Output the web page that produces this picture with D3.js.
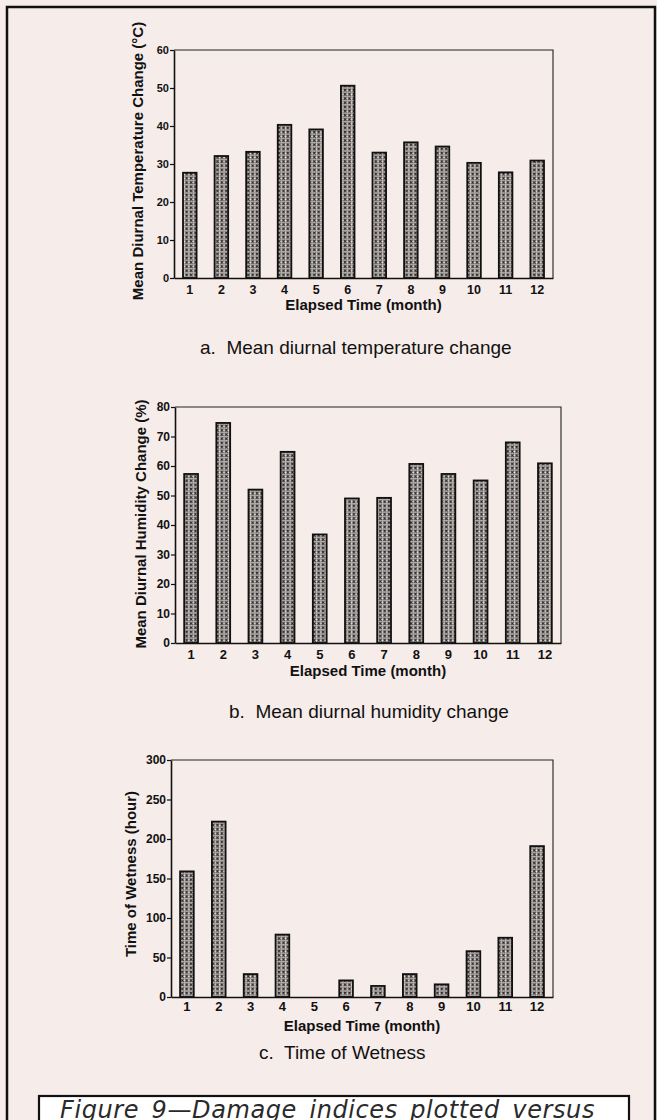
<!DOCTYPE html>
<html>
<head>
<meta charset="utf-8">
<script src="https://cdn.jsdelivr.net/npm/d3@7"></script>
<style>
  html, body { margin: 0; padding: 0; background: #f6ece9; }
  svg { display: block; }
</style>
</head>
<body>
<svg id="fig" width="657" height="1120"></svg>
<script>
// Elapsed months on every panel
const months = [1, 2, 3, 4, 5, 6, 7, 8, 9, 10, 11, 12];

// a. Mean diurnal temperature change (°C)
const tempChange = [27.7, 32.1, 33.2, 40.3, 39.1, 50.6, 33.0, 35.7, 34.6, 30.3, 27.8, 30.9];
const tempTicks = [0, 10, 20, 30, 40, 50, 60];

// b. Mean diurnal humidity change (%)
const humidityChange = [57.3, 74.6, 52.0, 64.8, 36.8, 49.0, 49.2, 60.7, 57.3, 55.1, 68.0, 60.9];
const humidityTicks = [0, 10, 20, 30, 40, 50, 60, 70, 80];

// c. Time of wetness (hours per month)
const wetnessHours = [159, 222, 29, 79, 0, 21, 14, 29, 16, 58, 75, 191];
const wetnessTicks = [0, 50, 100, 150, 200, 250, 300];

const xTitle = "Elapsed Time (month)";
const figureCaption = "Figure 9\u2014Damage indices plotted versus";

const svg = d3.select("#fig");

// cross-hatched fill used for all bars
const defs = svg.append("defs");
const pat = defs.append("pattern")
  .attr("id", "xhatch")
  .attr("patternUnits", "userSpaceOnUse")
  .attr("width", 4.4).attr("height", 4.2);
pat.append("rect").attr("width", 4.4).attr("height", 4.2).attr("fill", "#b9b1ae");
pat.append("rect").attr("x", 3.5).attr("y", 1.6).attr("width", 0.9).attr("height", 0.9).attr("fill", "#f4eeec");
pat.append("path")
  .attr("d", "M0.6,0.5L3.2,3.3M3.2,0.5L0.6,3.3")
  .attr("stroke", "#1c1c1c").attr("stroke-width", 0.9).attr("fill", "none");

// page frame
svg.append("rect")
  .attr("x", 7).attr("y", 7).attr("width", 648).attr("height", 1130)
  .attr("fill", "none").attr("stroke", "#111").attr("stroke-width", 2.5);

const panels = [
  {
    values: tempChange, ticks: tempTicks, yMax: 60,
    left: 174, right: 553, top: 50, bottom: 278,
    yTitle: "Mean Diurnal Temperature Change (°C)", yTitleX: 143, yTitleY: 161,
    xTitleY: 310, yTickSize: 11, xTickSize: 12.5, xTickPad: 7,
    caption: "a.  Mean diurnal temperature change", capX: 200, capY: 354
  },
  {
    values: humidityChange, ticks: humidityTicks, yMax: 80,
    left: 175, right: 561, top: 407, bottom: 643,
    yTitle: "Mean Diurnal Humidity Change (%)", yTitleX: 146, yTitleY: 524,
    xTitleY: 676, yTickSize: 12, xTickSize: 13, xTickPad: 6.5,
    caption: "b.  Mean diurnal humidity change", capX: 229, capY: 718
  },
  {
    values: wetnessHours, ticks: wetnessTicks, yMax: 300,
    left: 171, right: 553, top: 760, bottom: 997,
    yTitle: "Time of Wetness (hour)", yTitleX: 136, yTitleY: 874,
    xTitleY: 1031, yTickSize: 12, xTickSize: 13, xTickPad: 5,
    caption: "c.  Time of Wetness", capX: 259, capY: 1059
  }
];

const chartFont = "'Liberation Sans', Arial, Helvetica, sans-serif";

panels.forEach(p => {
  const g = svg.append("g");

  const x = d3.scaleBand()
    .domain(months)
    .range([p.left, p.right])
    .paddingInner(0.57)
    .paddingOuter(0.285);

  const y = d3.scaleLinear()
    .domain([0, p.yMax])
    .range([p.bottom, p.top]);

  // thin top and right edges of the plot box
  g.append("path")
    .attr("d", `M${p.left},${p.top}H${p.right}V${p.bottom}`)
    .attr("fill", "none").attr("stroke", "#222").attr("stroke-width", 1.1);

  // bars
  const bars = months.map((m, i) => ({ m, v: p.values[i] })).filter(d => d.v > 0);
  g.append("g").selectAll("rect")
    .data(bars)
    .join("rect")
    .attr("x", d => x(d.m))
    .attr("y", d => y(d.v))
    .attr("width", x.bandwidth())
    .attr("height", d => p.bottom - y(d.v))
    .attr("fill", "url(#xhatch)")
    .attr("stroke", "#111")
    .attr("stroke-width", 1.8);

  // y axis
  const ya = g.append("g")
    .attr("transform", `translate(${p.left},0)`)
    .call(d3.axisLeft(y).tickValues(p.ticks).tickSize(4).tickPadding(1).tickSizeOuter(0));
  ya.select(".domain").attr("stroke", "#111").attr("stroke-width", 1.6);
  ya.selectAll(".tick line").attr("stroke", "#111").attr("stroke-width", 1.2);
  ya.selectAll(".tick text")
    .attr("fill", "#111")
    .style("font-family", chartFont)
    .style("font-weight", "bold")
    .style("font-size", p.yTickSize + "px");

  // x axis
  const xa = g.append("g")
    .attr("transform", `translate(0,${p.bottom})`)
    .call(d3.axisBottom(x).tickSize(0).tickPadding(p.xTickPad).tickSizeOuter(0));
  xa.select(".domain").attr("stroke", "#111").attr("stroke-width", 1.6);
  xa.selectAll(".tick text")
    .attr("fill", "#111")
    .style("font-family", chartFont)
    .style("font-weight", "bold")
    .style("font-size", p.xTickSize + "px");

  // axis titles
  g.append("text")
    .attr("x", (p.left + p.right) / 2)
    .attr("y", p.xTitleY)
    .attr("text-anchor", "middle")
    .attr("fill", "#111")
    .style("font-family", chartFont)
    .style("font-weight", "bold")
    .style("font-size", "15px")
    .text(xTitle);

  g.append("text")
    .attr("transform", `translate(${p.yTitleX},${p.yTitleY}) rotate(-90)`)
    .attr("text-anchor", "middle")
    .attr("fill", "#111")
    .style("font-family", chartFont)
    .style("font-weight", "bold")
    .style("font-size", "15px")
    .text(p.yTitle);

  // panel caption
  g.append("text")
    .attr("x", p.capX)
    .attr("y", p.capY)
    .attr("fill", "#111")
    .style("font-family", chartFont)
    .style("font-size", "19px")
    .attr("xml:space", "preserve")
    .text(p.caption);
});

// figure caption box
svg.append("rect")
  .attr("x", 39).attr("y", 1096).attr("width", 590).attr("height", 60)
  .attr("fill", "#ffffff").attr("stroke", "#111").attr("stroke-width", 2.2);

// justified caption line: spread the gaps between words to fill the box
const capLeft = 60, capWidth = 535;
const cap = svg.append("text")
  .attr("x", capLeft).attr("y", 1118)
  .attr("fill", "#2a2a2a")
  .style("font-family", "'DejaVu Sans', 'Noto Sans', sans-serif")
  .style("font-style", "italic")
  .style("font-size", "24px")
  .style("letter-spacing", "0.6px")
  .text(figureCaption);
const natural = cap.node().getComputedTextLength();
const gaps = figureCaption.split(" ").length - 1;
cap.style("word-spacing", Math.max(0, (capWidth - natural) / gaps) + "px");
</script>
</body>
</html>
